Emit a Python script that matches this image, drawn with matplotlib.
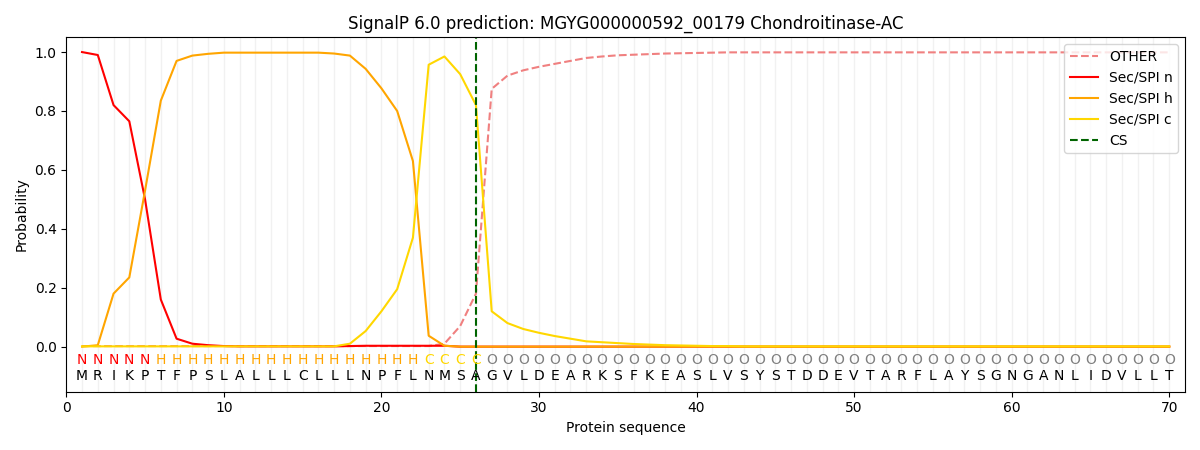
import matplotlib
matplotlib.use("Agg")
import matplotlib.pyplot as plt

sequence = "MRIKPTFPSLALLLCLLLNPFLNMSAGVLDEARKSFKEASLVSYSTDDEVTARFLAYSGNGANLIDVLLT"
labels = "NNNNN" + "H" * 17 + "CCCC" + "O" * 44
positions = list(range(1, len(sequence) + 1))
cs_pos = 26

other = [0.002] * 23 + [0.01, 0.07, 0.18, 0.875, 0.92, 0.938, 0.95, 0.96, 0.97,
                        0.98, 0.985, 0.989, 0.991, 0.993, 0.995, 0.996, 0.997,
                        0.998] + [0.999] * 29
sec_n = [1.0, 0.99, 0.82, 0.765, 0.50, 0.16, 0.027, 0.01, 0.005, 0.002,
         0.001, 0.001, 0.001, 0.001, 0.001, 0.001, 0.001, 0.002, 0.003, 0.003,
         0.003, 0.003, 0.003, 0.003] + [0.0] * 46
sec_h = [0.0, 0.005, 0.18, 0.235, 0.53, 0.835, 0.97, 0.988, 0.994, 0.998,
         0.998, 0.998, 0.998, 0.998, 0.998, 0.998, 0.995, 0.988, 0.943, 0.877,
         0.80, 0.63, 0.037, 0.003] + [0.0] * 46
sec_c = [0.001] * 17 + [0.01, 0.053, 0.12, 0.195, 0.37, 0.957, 0.985, 0.925,
                        0.82, 0.12, 0.08, 0.06, 0.047, 0.036, 0.027, 0.018,
                        0.015, 0.012, 0.009, 0.007, 0.005, 0.004, 0.003,
                        0.002, 0.002, 0.001] + [0.001] * 27

label_colors = {"N": "red", "H": "orange", "C": "gold", "O": "gray"}

fig, ax = plt.subplots(figsize=(12, 4.5), dpi=100)

for p in positions:
    ax.axvline(p, color="lightgray", alpha=0.3, linewidth=1, zorder=0)

ax.plot(positions, other, color="lightcoral", linestyle="--", label="OTHER")
ax.plot(positions, sec_n, color="red", label="Sec/SPI n")
ax.plot(positions, sec_h, color="orange", label="Sec/SPI h")
ax.plot(positions, sec_c, color="gold", label="Sec/SPI c")
ax.axvline(cs_pos, color="darkgreen", linestyle="--", label="CS")

for p, aa, lab in zip(positions, sequence, labels):
    ax.text(p, -0.047, lab, color=label_colors[lab], ha="center", va="center", fontsize=10)
    ax.text(p, -0.10, aa, color="black", ha="center", va="center", fontsize=10)

ax.set_xlim(0, 71)
ax.set_ylim(-0.153, 1.05)
ax.set_title("SignalP 6.0 prediction: MGYG000000592_00179 Chondroitinase-AC")
ax.set_xlabel("Protein sequence")
ax.set_ylabel("Probability")
ax.legend(loc="upper right")

plt.tight_layout()
plt.savefig("out.png")
